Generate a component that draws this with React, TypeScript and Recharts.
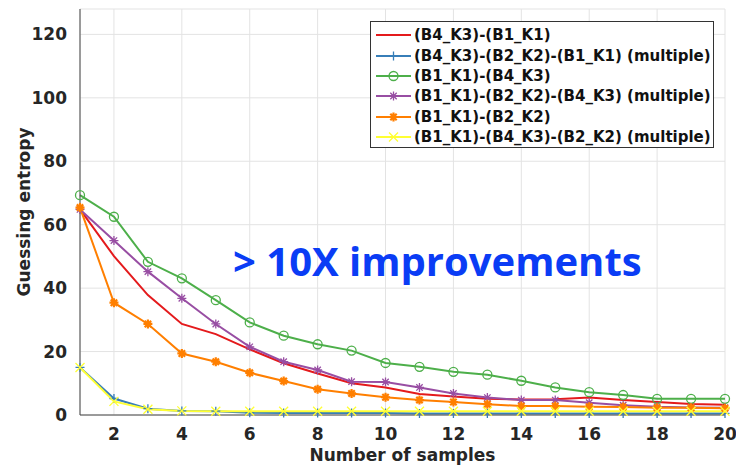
import { LineChart, Line, XAxis, YAxis, CartesianGrid } from 'recharts';

const samples = [1, 2, 3, 4, 5, 6, 7, 8, 9, 10, 11, 12, 13, 14, 15, 16, 17, 18, 19, 20];
const xTicks = [2, 4, 6, 8, 10, 12, 14, 16, 18, 20];
const yTicks = [0, 20, 40, 60, 80, 100, 120];

// guessing entropy per series
const redVals = [64.8, 50.1, 37.8, 28.7, 25.5, 20.7, 16.3, 13.1, 10.0, 8.7, 6.6, 5.8, 5.1, 4.9, 5.0, 5.5, 4.7, 4.1, 3.5, 3.2];
const blueVals = [15.0, 5.2, 2.0, 1.3, 1.2, 0.7, 0.6, 0.6, 0.6, 0.6, 0.5, 0.5, 0.5, 0.5, 0.5, 0.5, 0.5, 0.5, 0.5, 0.5];
const greenVals = [69.3, 62.5, 48.3, 43.1, 36.2, 29.2, 25.0, 22.3, 20.3, 16.4, 15.2, 13.6, 12.7, 10.8, 8.7, 7.2, 6.3, 5.1, 5.1, 5.1];
const purpleVals = [64.8, 55.0, 45.2, 36.8, 28.7, 21.5, 16.8, 14.2, 10.5, 10.4, 8.7, 6.8, 5.5, 4.7, 4.7, 3.9, 3.1, 2.6, 2.4, 2.3];
const orangeVals = [65.4, 35.4, 28.7, 19.4, 16.8, 13.3, 10.7, 8.1, 6.8, 5.6, 4.7, 4.1, 3.4, 2.8, 2.8, 2.6, 2.5, 2.3, 2.3, 2.1];
const yellowVals = [15.0, 4.3, 1.8, 1.3, 1.2, 1.2, 1.2, 1.2, 1.2, 1.2, 1.2, 1.2, 1.2, 1.2, 1.2, 1.2, 1.2, 1.2, 1.2, 1.2];

const seriesNames = [
  '(B4_K3)-(B1_K1)',
  '(B4_K3)-(B2_K2)-(B1_K1) (multiple)',
  '(B1_K1)-(B4_K3)',
  '(B1_K1)-(B2_K2)-(B4_K3) (multiple)',
  '(B1_K1)-(B2_K2)',
  '(B1_K1)-(B4_K3)-(B2_K2) (multiple)',
];

const data = samples.map((n, i) => ({
  n,
  red: redVals[i],
  blue: blueVals[i],
  green: greenVals[i],
  purple: purpleVals[i],
  orange: orangeVals[i],
  yellow: yellowVals[i],
}));

const series = [
  { key: 'red', color: '#e41a1c', marker: 'none' },
  { key: 'blue', color: '#377eb8', marker: 'plus' },
  { key: 'green', color: '#4daf4a', marker: 'circle' },
  { key: 'purple', color: '#984ea3', marker: 'star' },
  { key: 'orange', color: '#ff7f00', marker: 'hex' },
  { key: 'yellow', color: '#ffff33', marker: 'cross' },
];

const font = 'DejaVu Sans, sans-serif';

const Marker = ({ type, x, y, color }: { type: string; x: number; y: number; color: string }) => {
  const s = 4.5;
  if (type === 'circle') return <circle cx={x} cy={y} r={4.5} fill="none" stroke={color} strokeWidth={1.3} />;
  if (type === 'plus')
    return <path d={`M${x - s},${y}H${x + s}M${x},${y - s}V${y + s}`} stroke={color} strokeWidth={1.3} />;
  if (type === 'cross')
    return (
      <path d={`M${x - s},${y - s}L${x + s},${y + s}M${x - s},${y + s}L${x + s},${y - s}`} stroke={color} strokeWidth={1.3} />
    );
  if (type === 'star' || type === 'hex') {
    const w = type === 'hex' ? 2.2 : 1.3;
    return (
      <path
        d={`M${x - s},${y}H${x + s}M${x},${y - s}V${y + s}M${x - 3.2},${y - 3.2}L${x + 3.2},${y + 3.2}M${x - 3.2},${y + 3.2}L${x + 3.2},${y - 3.2}`}
        stroke={color}
        strokeWidth={w}
      />
    );
  }
  return null;
};

const LegendBox = () => (
  <div
    style={{
      position: 'absolute',
      left: 370,
      top: 21,
      width: 344,
      height: 127,
      border: '1px solid #333',
      background: '#fff',
      boxSizing: 'border-box',
      padding: '3px 0 0 5px',
      fontFamily: font,
      fontWeight: 'bold',
      fontSize: 15,
      color: '#111',
    }}
  >
    {series.map((s, i) => (
      <div key={s.key} style={{ display: 'flex', alignItems: 'center', height: 20.4, whiteSpace: 'nowrap' }}>
        <svg width={36} height={12} style={{ marginRight: 2, flexShrink: 0 }}>
          <line x1={0} y1={6} x2={35} y2={6} stroke={s.color} strokeWidth={2} />
          <Marker type={s.marker} x={17.5} y={6} color={s.color} />
        </svg>
        <span>{seriesNames[i]}</span>
      </div>
    ))}
  </div>
);

export default function App() {
  return (
    <div style={{ position: 'absolute', left: 0, top: 0, width: 736, height: 465, background: '#fff' }}>
      <LineChart width={736} height={465} data={data} margin={{ top: 9, right: 11, bottom: 20, left: 20 }}>
        <CartesianGrid stroke="#e3e3e3" strokeWidth={1} />
        <XAxis
          dataKey="n"
          type="number"
          domain={[1, 20]}
          ticks={xTicks}
          height={30}
          stroke="#444"
          tickLine={false}
          tick={{ fill: '#262626', fontSize: 17, fontWeight: 'bold', fontFamily: font }}
          tickMargin={7}
          label={{ value: 'Number of samples', position: 'insideBottom', offset: -16, fill: '#262626', fontSize: 17, fontWeight: 'bold', fontFamily: font }}
        />
        <XAxis xAxisId="top" orientation="top" dataKey="n" type="number" domain={[1, 20]} ticks={xTicks} tick={false} tickLine={false} height={0} stroke="#444" />
        <YAxis
          domain={[0, 128]}
          ticks={yTicks}
          width={60}
          stroke="#444"
          tickLine={false}
          tick={{ fill: '#262626', fontSize: 17, fontWeight: 'bold', fontFamily: font }}
          tickMargin={7}
          label={{ value: 'Guessing entropy', angle: -90, position: 'insideLeft', offset: 4, fill: '#262626', fontSize: 17, fontWeight: 'bold', fontFamily: font, style: { textAnchor: 'middle' } }}
        />
        <YAxis yAxisId="right" orientation="right" domain={[0, 128]} ticks={yTicks} tick={false} tickLine={false} width={0} stroke="#444" />
        {series.map((s) => (
          <Line
            key={s.key}
            dataKey={s.key}
            stroke={s.color}
            strokeWidth={2}
            isAnimationActive={false}
            dot={(p: any) => <Marker key={`${s.key}-${p.index}`} type={s.marker} x={p.cx} y={p.cy} color={s.color} />}
            activeDot={false}
          />
        ))}
      </LineChart>
      <LegendBox />
      <div
        style={{
          position: 'absolute',
          left: 233,
          top: 233,
          fontFamily: 'Open Sans, sans-serif',
          fontWeight: 'bold',
          fontSize: 40,
          color: '#0a3cf5',
          whiteSpace: 'nowrap',
        }}
      >
        {'> 10X improvements'}
      </div>
    </div>
  );
}
